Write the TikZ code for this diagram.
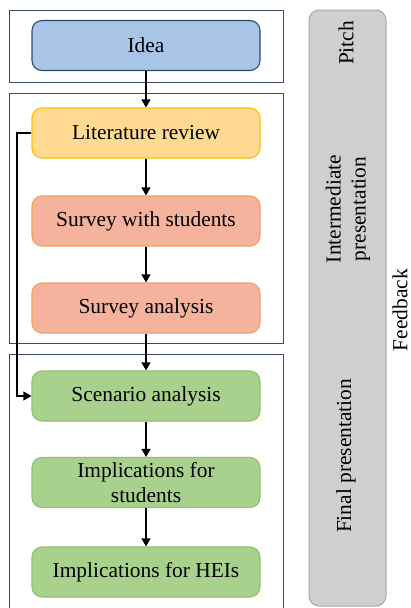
\documentclass[tikz,border=0pt]{standalone}
\usepackage{fontspec}
\setmainfont{Liberation Serif}
\usetikzlibrary{arrows.meta,positioning}
\definecolor{navy}{HTML}{3A4A6A}
\definecolor{ideafill}{HTML}{A8C4E6}
\definecolor{ideadraw}{HTML}{2F4A70}
\definecolor{litfill}{HTML}{FFDA90}
\definecolor{litdraw}{HTML}{FFC000}
\definecolor{survfill}{HTML}{F5B29C}
\definecolor{survdraw}{HTML}{F2A165}
\definecolor{greenfill}{HTML}{A9D18E}
\definecolor{greendraw}{HTML}{8CC26C}
\definecolor{grayfill}{HTML}{D0CFCF}
\definecolor{graydraw}{HTML}{A8A8A8}
\tikzset{
  txt/.style={font=\fontsize{21.4}{25}\selectfont, align=center},
  stepbox/.style={txt, rectangle, rounded corners=10pt, minimum width=228pt, minimum height=50pt, line width=1.1pt, inner sep=0pt},
  groupbox/.style={draw=navy, line width=1pt},
  flow/.style={line width=1.2pt, -{Triangle[length=8pt,width=9pt]}},
}
\begin{document}
\begin{tikzpicture}[x=1pt,y=-1pt]
\useasboundingbox (0,0) rectangle (411,608);
% group boxes
\draw[groupbox] (9,10) rectangle (283,82);
\draw[groupbox] (9,93) rectangle (283,343);
\draw[groupbox] (9,612) -- (9,354) -- (283,354) -- (283,612);
% gray bar
\draw[fill=grayfill, draw=graydraw, line width=1pt, rounded corners=10pt] (309,10) rectangle (386,606);
\node[txt, rotate=90] (pitch) at (346,43) {Pitch};
\node[txt, rotate=90] (inter) at (348,209) {Intermediate\\presentation};
\node[txt, rotate=90] (final) at (346,456) {Final presentation};
\node[txt, rotate=90, inner sep=0pt] (fb) at (400,310) {Feedback};
% step nodes
\node[stepbox, fill=ideafill, draw=ideadraw] (idea) at (146,45.5) {Idea};
\node[stepbox, fill=litfill, draw=litdraw] (lit) at (146,133) {Literature review};
\node[stepbox, fill=survfill, draw=survdraw] (sws) at (146,221) {Survey with students};
\node[stepbox, fill=survfill, draw=survdraw] (sa) at (146,308) {Survey analysis};
\node[stepbox, fill=greenfill, draw=greendraw] (scen) at (146,396) {Scenario analysis};
\node[stepbox, fill=greenfill, draw=greendraw] (ifs) at (146,482.5) {Implications for\\students};
\node[stepbox, fill=greenfill, draw=greendraw] (ifh) at (146,572) {Implications for HEIs};
% arrows
\draw[flow] (idea) -- (lit);
\draw[flow] (lit) -- (sws);
\draw[flow] (sws) -- (sa);
\draw[flow] (sa) -- (scen);
\draw[flow] (scen) -- (ifs);
\draw[flow] (ifs) -- (ifh);
\coordinate (fbtop) at (17,133);
\coordinate (fbbot) at (17,396);
\draw[flow] (lit.west) -- (fbtop) -- (fbbot) -- (scen.west);
\end{tikzpicture}
\end{document}
